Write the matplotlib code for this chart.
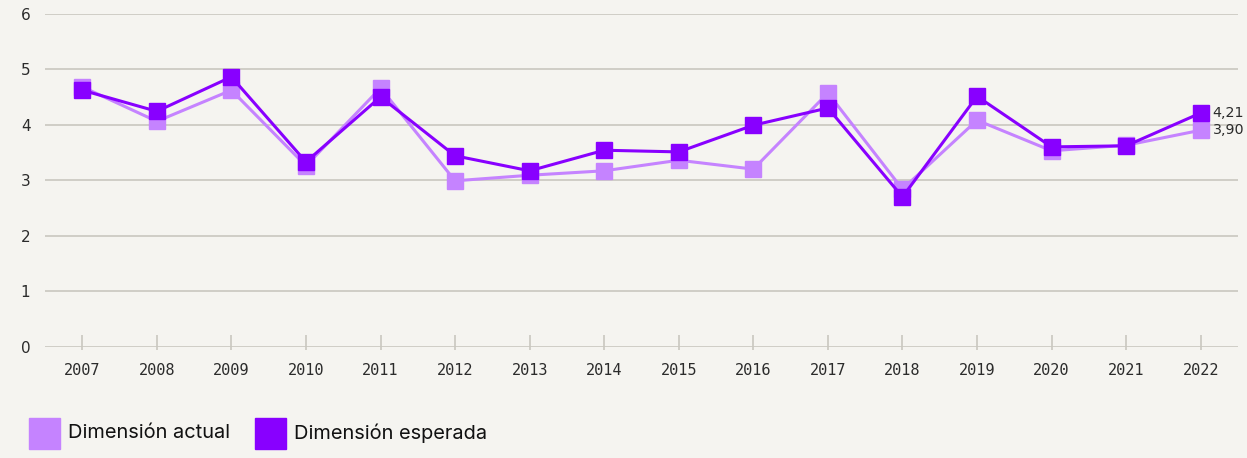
import numpy as np
import matplotlib.pyplot as plt
from matplotlib.patches import Rectangle

years = list(range(2007, 2023))
actual = [4.68, 4.06, 4.62, 3.26, 4.66, 2.99, 3.09, 3.17, 3.36, 3.20, 4.57, 2.84, 4.08, 3.53, 3.63, 3.90]
expected = [4.62, 4.24, 4.86, 3.33, 4.50, 3.44, 3.17, 3.54, 3.51, 3.99, 4.30, 2.70, 4.51, 3.60, 3.62, 4.21]
y_ticks = [0, 1, 2, 3, 4, 5, 6]
legend_labels = ["Dimensión actual", "Dimensión esperada"]

bg = "#F5F4F0"
light = "#C583FF"
dark = "#8800FF"
grid = "#C9C7BF"
txt = "#2B2B2B"

W, H = 1247, 458
fig = plt.figure(figsize=(W / 100, H / 100), dpi=100, facecolor=bg)
ax = fig.add_axes([45 / W, 111 / H, 1193 / W, 333.5 / H])
ax.set_facecolor(bg)

for v in y_ticks:
    ax.axhline(v, color=grid, lw=1.2, zorder=0)
ax.vlines(years, -0.06, 0.22, color=grid, lw=1.2, zorder=0, clip_on=False)

ax.plot(years, actual, color=light, lw=2.2, marker="s", ms=11.5, zorder=2)
ax.plot(years, expected, color=dark, lw=2.2, marker="s", ms=11.5, zorder=3)

# value labels on the last year
for vals in (expected, actual):
    ax.text(years[-1] + 0.16, vals[-1], f"{vals[-1]:.2f}".replace(".", ","),
            fontsize=10.3, family="DejaVu Sans", color=txt, va="center", ha="left",
            clip_on=False)

tick_font = "DejaVu Sans Mono"
ax.set_xlim(2006.5, 2022.5)
ax.set_ylim(0, 6)
ax.set_xticks(years)
ax.set_xticklabels([str(y) for y in years], family=tick_font, fontsize=11, color=txt)
ax.set_yticks(y_ticks)
ax.set_yticklabels([str(v) for v in y_ticks], family="DejaVu Sans", fontsize=11, color=txt)
ax.tick_params(axis="x", length=0, pad=11.5)
ax.tick_params(axis="y", length=0, pad=10.5)
for s in ax.spines.values():
    s.set_visible(False)

# legend: square swatches followed by labels
x0 = 29
for color, label in zip([light, dark], legend_labels):
    fig.patches.append(Rectangle((x0 / W, 9 / H), 31 / W, 31 / H,
                                 transform=fig.transFigure, color=color))
    t = fig.text((x0 + 39) / W, 24.5 / H, label, family="Inter", fontsize=14.4,
                 color="#111111", va="center", ha="left")
    fig.canvas.draw()
    bb = t.get_window_extent()
    x0 = bb.x1 + 25

fig.savefig("out.png", dpi=100, facecolor=bg)
